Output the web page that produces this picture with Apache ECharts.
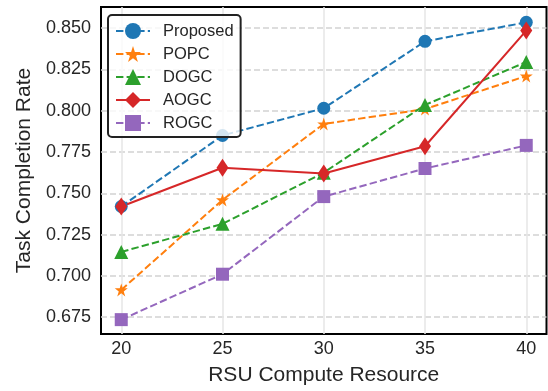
<!DOCTYPE html>
<html>
<head>
<meta charset="utf-8">
<script src="https://cdn.jsdelivr.net/npm/echarts@6/dist/echarts.min.js"></script>
<style>
  html, body { margin: 0; padding: 0; background: #fff; }
  #chart { width: 548px; height: 391px; }
</style>
</head>
<body>
<div id="chart"></div>
<script>
// RSU compute resource levels (x axis)
const computeResource = [20, 25, 30, 35, 40];

// Task completion rate for each method
const proposed = [0.742, 0.785, 0.8015, 0.842, 0.8535];
const popc     = [0.6915, 0.746, 0.792, 0.801, 0.821];
const dogc     = [0.7145, 0.7315, 0.7625, 0.8035, 0.8295];
const aogc     = [0.742, 0.7655, 0.762, 0.7785, 0.8485];
const rogc     = [0.6735, 0.701, 0.748, 0.765, 0.779];

// Y axis tick values
const yTicks = [0.675, 0.700, 0.725, 0.750, 0.775, 0.800, 0.825, 0.850];
const xTicks = [20, 25, 30, 35, 40];

const FONT = 'Liberation Sans, Arial, sans-serif';
const TEXT = '#262626';
const DASH = [7.4, 3.2];

// five-pointed star marker
const STAR = 'path://M50,0 L61.23,34.55 L97.55,34.55 L68.17,55.9 L79.39,90.45 L50,69.1 L20.61,90.45 L31.83,55.9 L2.45,34.55 L38.77,34.55 Z';

function pairs(ys) {
  return computeResource.map((x, i) => [x, ys[i]]);
}

function lineSeries(name, ys, color, symbol, size, dashed) {
  return {
    name: name,
    type: 'line',
    data: pairs(ys),
    symbol: symbol,
    symbolSize: size,
    showAllSymbol: true,
    lineStyle: { color: color, width: 2, type: dashed ? DASH : 'solid' },
    itemStyle: { color: color, borderWidth: 0 },
    emphasis: { disabled: true },
    animation: false
  };
}

const chart = echarts.init(document.getElementById('chart'), null, { renderer: 'canvas' });

chart.setOption({
  backgroundColor: '#ffffff',
  animation: false,
  grid: {
    left: 101, right: 1.5, top: 7, bottom: 54,
    show: true, borderColor: '#000000', borderWidth: 2,
    backgroundColor: 'transparent'
  },
  legend: {
    left: 108, top: 15,
    orient: 'vertical',
    itemWidth: 34, itemHeight: 20, itemGap: 3,
    padding: [6, 7, 4, 7],
    backgroundColor: 'rgba(255,255,255,0.8)',
    borderColor: '#222222', borderWidth: 2, borderRadius: 4,
    textStyle: { fontFamily: FONT, fontSize: 16.5, color: TEXT, padding: [0, 0, 0, 8], lineHeight: 20 },
    data: ['Proposed', 'POPC', 'DOGC', 'AOGC', 'ROGC']
  },
  xAxis: {
    type: 'value',
    min: 19, max: 41,
    name: 'RSU Compute Resource',
    nameLocation: 'middle',
    nameGap: 31,
    nameTextStyle: { fontFamily: FONT, fontSize: 21, color: TEXT },
    axisLine: { show: false },
    axisTick: { show: false, customValues: xTicks },
    axisLabel: { customValues: xTicks, fontFamily: FONT, fontSize: 18, color: TEXT, margin: 6 },
    splitLine: { show: true, lineStyle: { color: '#e6e6e6', width: 1.5, type: 'solid' } }
  },
  yAxis: {
    type: 'value',
    min: 0.6648, max: 0.8628,
    name: 'Task Completion Rate',
    nameLocation: 'middle',
    nameGap: 65,
    nameTextStyle: { fontFamily: FONT, fontSize: 21, color: TEXT },
    axisLine: { show: false },
    axisTick: { show: false, customValues: yTicks },
    axisLabel: {
      customValues: yTicks,
      fontFamily: FONT, fontSize: 18, color: TEXT, margin: 10,
      formatter: v => v.toFixed(3)
    },
    splitLine: { show: true, lineStyle: { color: '#d2d2d2', width: 1.5, type: [6, 3] } }
  },
  series: [
    lineSeries('Proposed', proposed, '#1f77b4', 'circle', 13, true),
    lineSeries('POPC', popc, '#ff7f0e', STAR, 13, true),
    lineSeries('DOGC', dogc, '#2ca02c', 'triangle', 14, true),
    lineSeries('AOGC', aogc, '#d62728', 'diamond', [12, 18], false),
    lineSeries('ROGC', rogc, '#9467bd', 'rect', 13, true)
  ]
});
</script>
</body>
</html>
